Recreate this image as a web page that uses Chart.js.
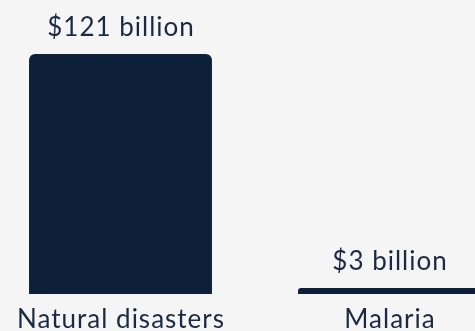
<!DOCTYPE html>
<html lang="en">
<head>
    <meta charset="UTF-8">
    <title>Cost comparison</title>
    <script src="https://cdn.jsdelivr.net/npm/chart.js"></script>
    <style>
        html, body {
            margin: 0;
            background: #f5f5f5;
            overflow: hidden;
            width: 475px;
            height: 331px;
        }

        .chart-wrap {
            position: absolute;
            left: -14px;
            top: 0;
            width: 538px;
            height: 331px;
        }
    </style>
</head>
<body>
    <div class="chart-wrap">
        <canvas id="chart"></canvas>
    </div>

    <script>
        const categories = ['Natural disasters', 'Malaria'];
        const costs = [121, 3];
        const valueLabels = ['$121 billion', '$3 billion'];

        const textColor = '#1b2a44';
        const barColor = '#0e2039';
        const font = '26px Lato, sans-serif';

        // draws value labels above bars and category names under them
        const labelPlugin = {
            id: 'labels',
            afterDatasetsDraw(chart) {
                const ctx = chart.ctx;
                const meta = chart.getDatasetMeta(0);
                ctx.save();
                ctx.font = font;
                ctx.letterSpacing = '1px';
                ctx.fillStyle = textColor;
                ctx.textAlign = 'center';
                ctx.textBaseline = 'alphabetic';
                meta.data.forEach((bar, i) => {
                    ctx.fillText(valueLabels[i], bar.x + 0.5, bar.y - 18);
                    ctx.fillText(categories[i], bar.x + 0.5, chart.chartArea.bottom + 34);
                });
                ctx.restore();
            }
        };

        new Chart(document.getElementById('chart'), {
            type: 'bar',
            data: {
                labels: categories,
                datasets: [{
                    data: costs,
                    backgroundColor: barColor,
                    borderRadius: { topLeft: 6, topRight: 6 },
                    borderSkipped: 'bottom',
                    categoryPercentage: 1,
                    barPercentage: 0.68
                }]
            },
            options: {
                responsive: true,
                maintainAspectRatio: false,
                animation: false,
                layout: { padding: { top: 54, bottom: 37, left: 0, right: 0 } },
                plugins: {
                    legend: { display: false },
                    tooltip: { enabled: false }
                },
                scales: {
                    x: { display: false },
                    y: { display: false, min: 0, max: 121 }
                }
            },
            plugins: [labelPlugin]
        });
    </script>
</body>
</html>
